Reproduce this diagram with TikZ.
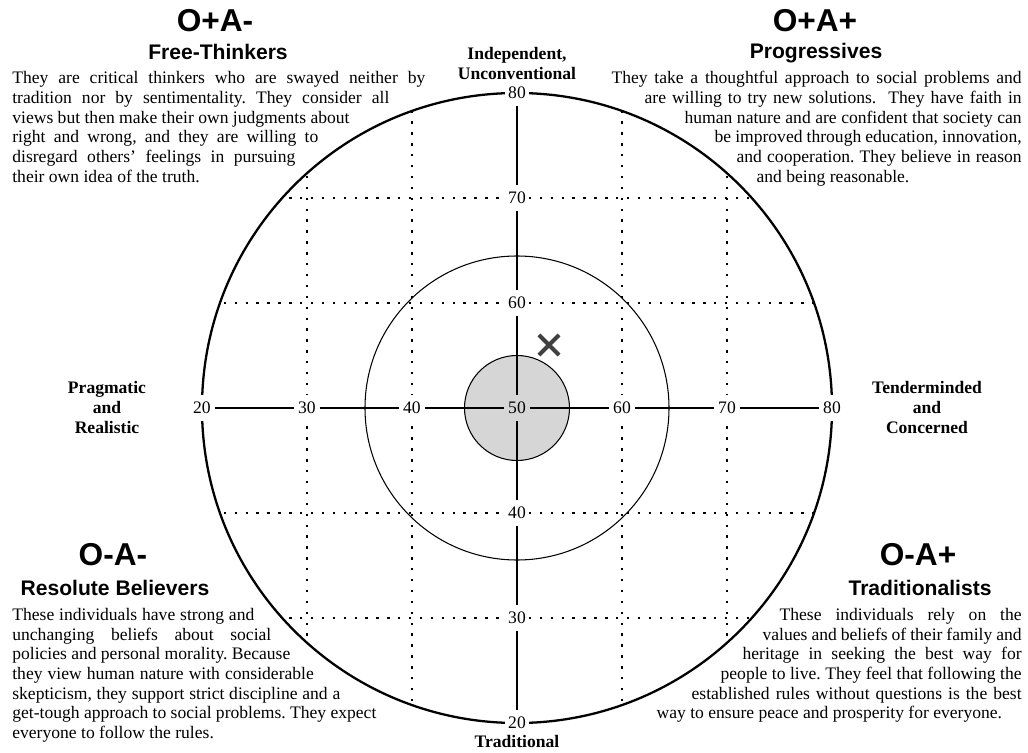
\documentclass[tikz,border=0pt]{standalone}
\usepackage{fontspec}
\setmainfont{Liberation Serif}
\setsansfont{Liberation Sans}
\usetikzlibrary{shapes.misc}
\definecolor{coregray}{RGB}{214,214,214}
\definecolor{markgray}{RGB}{64,64,64}
\newcommand{\fitline}[2]{\makebox[#1cm][s]{#2}}

\begin{document}
\begin{tikzpicture}[
  score/.style={font=\fontsize{10}{12}\selectfont, inner xsep=2pt, inner ysep=4pt, fill=white},
  pole/.style={font=\fontsize{10}{11.4}\selectfont\bfseries, align=center, inner sep=0pt},
  typetag/.style={font=\fontsize{18}{20}\selectfont\sffamily\bfseries, anchor=base},
  typename/.style={font=\fontsize{12}{14}\selectfont\sffamily\bfseries, anchor=base},
  blurb/.style={font=\fontsize{10}{11.2}\selectfont\frenchspacing, inner sep=0pt},
  gridline/.style={line width=1.35pt, dash pattern=on 1.35pt off 4.85pt},
  axis/.style={line width=1.4pt}
]
  \useasboundingbox (-10.34,-6.88) rectangle (10.22,8.16);
  % dotted grid, kept inside the outer ring
  \begin{scope}
    \clip (0,0) circle (6.3);
    \foreach \d in {-4.2,-2.1,2.1,4.2} {
      \draw[gridline] (\d,-6.3) -- (\d,6.3);
      \draw[gridline] (-6.3,\d) -- (6.3,\d);
    }
  \end{scope}
  % rings
  \draw[line width=1.3pt] (0,0) circle (6.3);
  \draw[line width=0.6pt] (0,0) circle (3.04);
  \draw[fill=coregray, line width=0.6pt] (0,0) circle (1.05);
  % scale marks and axes
  \node[score, fill=none] (c50) at (0,0) {50};
  \foreach \v/\p in {20/-6.3,30/-4.2,40/-2.1,60/2.1,70/4.2,80/6.3} {
    \node[score] (h\v) at (\p,0) {\v};
    \node[score] (v\v) at (0,\p) {\v};
  }
  \draw[axis] (h20) -- (h30) -- (h40) -- (c50) -- (h60) -- (h70) -- (h80);
  \draw[axis] (v20) -- (v30) -- (v40) -- (c50) -- (v60) -- (v70) -- (v80);
  % respondent
  \node[cross out, draw=markgray, line width=2.3pt, minimum size=0.32cm, inner sep=0pt] (you) at (0.64,1.26) {};
  % poles
  \node[pole, anchor=north] (indep) at (0,7.22) {Independent,\\Unconventional};
  \node[pole, anchor=base] (trad) at (0,-6.78) {Traditional};
  \node[pole, anchor=north] (prag) at (-8.2,0.54) {Pragmatic\\and\\Realistic};
  \node[pole, anchor=north] (tender) at (8.2,0.54) {Tenderminded\\and\\Concerned};
  % O+A-
  \node[typetag] (freetag) at (-6.04,7.52) {O+A-};
  \node[typename] (freename) at (-5.98,6.96) {Free-Thinkers};
  \node[blurb, anchor=north west, align=left] (freetxt) at (-10.10,6.736)
    {\fitline{8.26}{They are critical thinkers who are swayed neither by}\\
     \fitline{7.54}{tradition nor by sentimentality. They consider all}\\
     views but then make their own judgments about\\
     \fitline{6.12}{right and wrong, and they are willing to}\\
     \fitline{5.66}{disregard others' feelings in pursuing}\\
     their own idea of the truth.};
  % O+A+
  \node[typetag] (progtag) at (5.96,7.52) {O+A+};
  \node[typename] (progname) at (5.98,6.98) {Progressives};
  \node[blurb, anchor=north east, align=right] (progtxt) at (10.10,6.736)
    {\fitline{8.2}{They take a thoughtful approach to social problems and}\\
     \fitline{7.54}{are willing to try new solutions.\ \ They have faith in}\\
     \fitline{6.74}{human nature and are confident that society can}\\
     \fitline{6.14}{be improved through education, innovation,}\\
     \fitline{5.7}{and cooperation. They believe in reason}\\
     \makebox[5.3cm][l]{and being reasonable.}};
  % O-A-
  \node[typetag] (resotag) at (-8.08,-3.14) {O-A-};
  \node[typename] (resoname) at (-8.04,-3.74) {Resolute Believers};
  \node[blurb, anchor=north west, align=left] (resotxt) at (-10.10,-4.0)
    {\fitline{4.84}{These individuals have strong and}\\
     \fitline{5.18}{unchanging beliefs about social}\\
     \fitline{5.56}{policies and personal morality. Because}\\
     \fitline{6.03}{they view human nature with considerable}\\
     \fitline{6.56}{skepticism, they support strict discipline and a}\\
     \fitline{7.28}{get-tough approach to social problems. They expect}\\
     everyone to follow the rules.};
  % O-A+
  \node[typetag] (tradtag) at (8.02,-3.14) {O-A+};
  \node[typename] (tradname) at (8.06,-3.74) {Traditionalists};
  \node[blurb, anchor=north east, align=right] (tradtxt) at (10.10,-4.0)
    {\fitline{4.84}{These individuals rely on the}\\
     \fitline{5.18}{values and beliefs of their family and}\\
     \fitline{5.58}{heritage in seeking the best way for}\\
     \fitline{6.02}{people to live. They feel that following the}\\
     \fitline{6.6}{established rules without questions is the best}\\
     \makebox[7.3cm][l]{way to ensure peace and prosperity for everyone.}};
\end{tikzpicture}
\end{document}
